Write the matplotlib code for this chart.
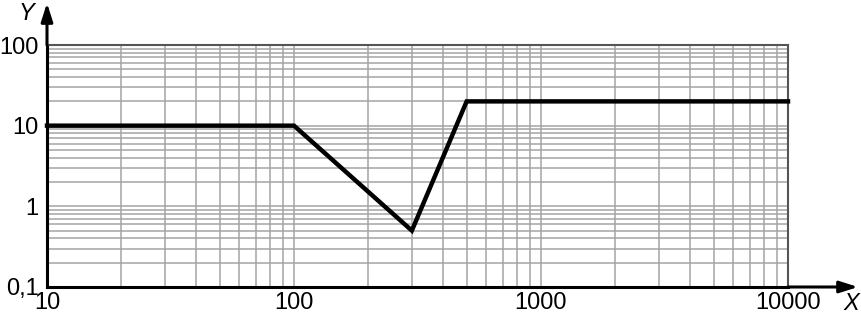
import matplotlib
matplotlib.use("Agg")
import matplotlib.pyplot as plt
from matplotlib.ticker import FixedLocator, LogLocator, NullFormatter

x_vals = [10, 100, 300, 500, 10000]
y_vals = [10, 10, 0.5, 20, 20]
x_ticks = [10, 100, 1000, 10000]
x_labels = ["10", "100", "1000", "10000"]
y_ticks = [0.1, 1, 10, 100]
y_labels = ["0,1", "1", "10", "100"]

plt.rcParams['font.family'] = ['Liberation Sans', 'DejaVu Sans']

fig = plt.figure(figsize=(8.62, 3.18), dpi=100)
ax = fig.add_axes([47/862, 31/318, (788-47)/862, (287-45)/318])
ax.set_xscale('log')
ax.set_yscale('log')
ax.set_xlim(10, 10000)
ax.set_ylim(0.1, 100)

ax.xaxis.set_major_locator(FixedLocator(x_ticks))
ax.yaxis.set_major_locator(FixedLocator(y_ticks))
ax.xaxis.set_minor_locator(LogLocator(base=10, subs=range(2, 10), numticks=20))
ax.yaxis.set_minor_locator(LogLocator(base=10, subs=range(2, 10), numticks=20))
ax.xaxis.set_minor_formatter(NullFormatter())
ax.yaxis.set_minor_formatter(NullFormatter())
ax.set_xticklabels(x_labels)
ax.set_yticklabels(y_labels)

ax.grid(True, which='both', color='#a4a4a4', linewidth=1.1)
ax.set_axisbelow(True)
ax.tick_params(which='both', length=0, labelsize=17)
ax.tick_params(axis='x', pad=3.5)
ax.tick_params(axis='y', pad=6)

for s in ['top', 'right']:
    ax.spines[s].set_color('#555555')
    ax.spines[s].set_linewidth(1.5)
for s in ['left', 'bottom']:
    ax.spines[s].set_color('black')
    ax.spines[s].set_linewidth(2.2)

ax.plot(x_vals, y_vals, color='black', linewidth=3.2, solid_joinstyle='miter', zorder=5, clip_on=False)

# arrows
arrow_style = dict(arrowstyle='-|>,head_length=1.1,head_width=0.35', color='black', lw=2.2, shrinkA=0, shrinkB=0)
ax.annotate('', xy=(47/862, 1 - 3/318), xycoords='figure fraction',
            xytext=(47/862, 1 - 45/318), textcoords='figure fraction',
            arrowprops=arrow_style)
ax.annotate('', xy=(858/862, 31/318), xycoords='figure fraction',
            xytext=(788/862, 31/318), textcoords='figure fraction',
            arrowprops=arrow_style)
fig.text(26/862, 1 - 13/318, 'Y', fontsize=17, style='italic', ha='center', va='center')
fig.text(851/862, 1 - 304/318, 'X', fontsize=17, style='italic', ha='center', va='center')

fig.savefig('out.png', dpi=100)
